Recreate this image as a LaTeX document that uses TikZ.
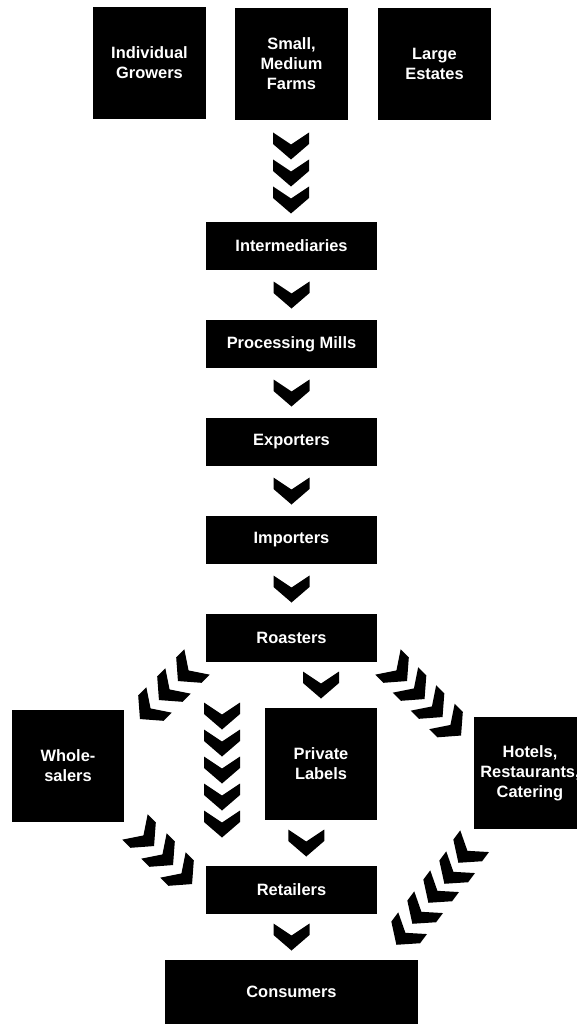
\documentclass[tikz,border=0pt]{standalone}
\usepackage{fontspec}
\setmainfont{Liberation Sans}
\usetikzlibrary{calc}
\tikzset{
  box/.style={fill=black, text=white, inner sep=0pt, align=center,
    font=\fontsize{16.4}{20}\selectfont\bfseries},
  sqbox/.style={box, minimum width=113pt, minimum height=112pt},
  widebox/.style={box, minimum width=171pt, minimum height=48pt},
  chev/.pic={\fill[black] (-18,-13.5) -- (0,-1.5) -- (18,-13.5) -- (18,-2) -- (0,13.5) -- (-18,-2) -- cycle;}
}
\begin{document}
\begin{tikzpicture}[x=1pt, y=-1pt]
\useasboundingbox (0,0) rectangle (577,1024);
% top row
\node[sqbox] (grow) at (149.5,63) {Individual\\Growers};
\node[sqbox] (farms) at (291.5,64) {Small,\\Medium\\Farms};
\node[sqbox] (estates) at (434.5,64) {Large\\Estates};
% main column
\node[widebox] (inter) at (291.5,246) {Intermediaries};
\node[widebox] (mills) at (291.5,344) {Processing Mills};
\node[widebox] (export) at (291.5,442) {Exporters};
\node[widebox] (import) at (291.5,540) {Importers};
\node[widebox] (roast) at (291.5,638) {Roasters};
\node[sqbox, minimum width=112pt] (private) at (321,764) {Private\\Labels};
\node[sqbox, minimum width=112pt] (whole) at (68,766) {Whole-\\salers};
\node[sqbox, minimum width=112pt] (hotels) at (530,773) {Hotels,\\Restaurants,\\Catering};
\node[widebox] (retail) at (291.5,890) {Retailers};
\node[box, minimum width=253pt, minimum height=64pt] (consum) at (291.5,992) {Consumers};
% chevrons, top triple
\pic at (291,146) {chev};
\pic at (291,173) {chev};
\pic at (291,200) {chev};
% single chevrons
\pic at ($(inter.south)!0.5!(mills.north)$) {chev};
\pic at ($(mills.south)!0.5!(export.north)$) {chev};
\pic at ($(export.south)!0.5!(import.north)$) {chev};
\pic at ($(import.south)!0.5!(roast.north)$) {chev};
\pic at (321,685) {chev};
\pic at ($(private.south)!0.5!(retail.north)$) {chev};
\pic at ($(retail.south)!0.5!(consum.north)$) {chev};
% roasters to retailers, vertical column
\foreach \y in {716,743,770,797,824} \pic at (222,\y) {chev};
% roasters to wholesalers
\foreach \p in {(187.5,671.5),(168.5,690.5),(149.5,709.5)} \pic[rotate=-45] at \p {chev};
% roasters to hotels
\foreach \p in {(397.5,671.5),(415,689.5),(433,707.5),(451.5,726)} \pic[rotate=45] at \p {chev};
% wholesalers to retailers
\foreach \p in {(144.5,836.5),(163.5,855.5),(182.5,874.5)} \pic[rotate=45] at \p {chev};
% hotels to retailers
\foreach \p in {(466.5,852),(452.5,873),(436.5,892),(420.5,913),(404.5,934)} \pic[rotate=-37] at \p {chev};
\end{tikzpicture}
\end{document}
